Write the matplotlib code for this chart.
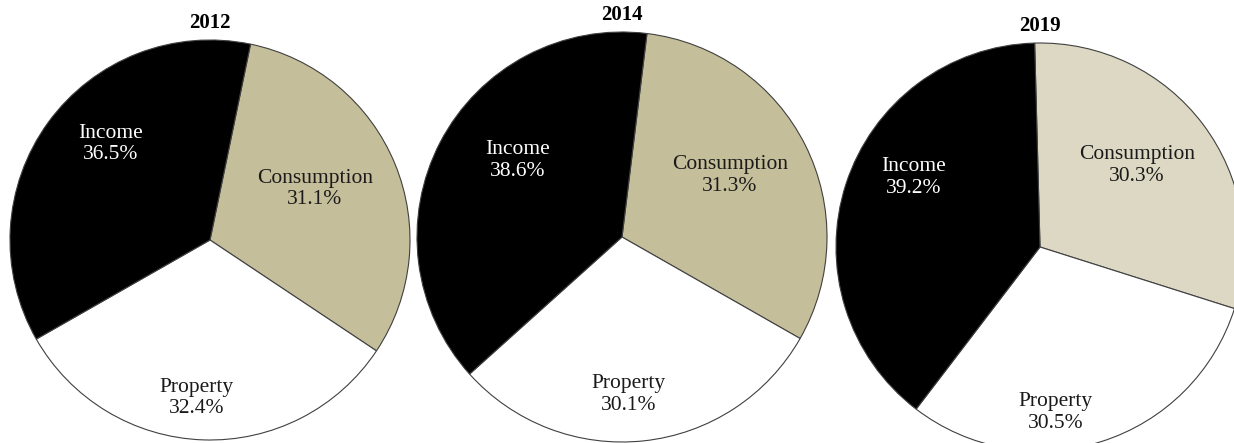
import matplotlib
matplotlib.use("Agg")
import matplotlib.pyplot as plt

# Tax revenue structure by type, three survey years
years = ["2012", "2014", "2019"]
categories = ["Consumption", "Property", "Income"]
consumption = [31.1, 31.3, 30.3]
property_ = [32.4, 30.1, 30.5]
income = [36.5, 38.6, 39.2]

# Layout of each pie on a pixel canvas (y measured upward)
W, H = 1234, 443
centers = [(210, 203), (622, 206), (1040, 196)]
radii = [200, 205, 204]
start_angles = [78.3, 83.0, 91.5]
consumption_colors = ["#C5BE9A", "#C5BE9A", "#DCD8C3"]
# label offsets (in units of the radius) for Consumption, Property, Income
label_offsets = [
    [(0.525, 0.255), (-0.065, -0.79), (-0.495, 0.48)],
    [(0.527, 0.30), (0.03, -0.77), (-0.51, 0.375)],
    [(0.475, 0.40), (0.075, -0.81), (-0.62, 0.34)],
]

plt.rcParams["font.family"] = ["Liberation Serif", "DejaVu Serif"]

fig = plt.figure(figsize=(W / 100, H / 100), dpi=100)
ax = fig.add_axes([0, 0, 1, 1])

for i, year in enumerate(years):
    vals = [consumption[i], property_[i], income[i]]
    cx, cy = centers[i]
    r = radii[i]
    colors = [consumption_colors[i], "white", "black"]
    ax.pie(vals, colors=colors, startangle=start_angles[i], counterclock=False,
           center=(cx, cy), radius=r, frame=True,
           wedgeprops=dict(edgecolor="#404040", linewidth=0.8))
    text_colors = ["#1a1a1a", "#1a1a1a", "white"]
    for j, cat in enumerate(categories):
        dx, dy = label_offsets[i][j]
        ax.text(cx + dx * r, cy + dy * r, f"{cat}\n{vals[j]:.1f}%",
                ha="center", va="center", fontsize=15.5, color=text_colors[j],
                linespacing=1.2)
    ax.text(cx, cy + r + 17, year, ha="center", va="center",
            fontsize=15, fontweight="bold", color="black")

ax.set_xlim(0, W)
ax.set_ylim(0, H)
ax.set_aspect("equal")
ax.axis("off")

fig.savefig("out.png", dpi=100, facecolor="white")
